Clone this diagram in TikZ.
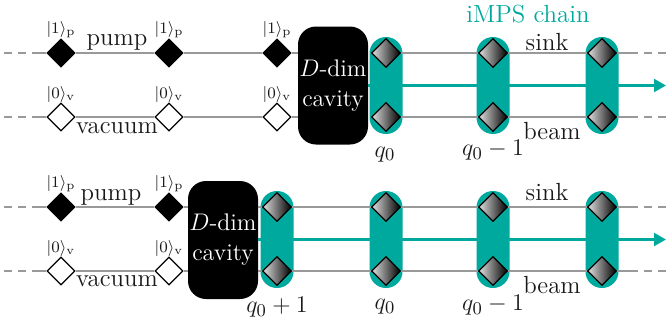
\documentclass[tikz,border=0pt]{standalone}
\usepackage{amssymb}
\usepackage{mathtools}
\usetikzlibrary{shapes.geometric,arrows.meta}
\definecolor{chainteal}{HTML}{00A99D}
\newcommand{\kt}[2]{\lvert #1\rangle_{\mathrm{#2}}}
\tikzset{
  rail/.style={draw=black!40,line width=.8pt},
  tail/.style={rail,dash pattern=on 4pt off 3pt},
  pumpdot/.style={shape=diamond,draw=black,fill=black,inner sep=0pt,minimum size=14pt,line width=.6pt},
  vacdot/.style={pumpdot,fill=white},
  chaindot/.style={pumpdot,left color=gray!25,right color=black,minimum size=14.5pt},
  pill/.style={fill=chainteal,rounded corners=8.2pt,minimum width=16.5pt,minimum height=48.5pt,inner sep=0pt},
  cavity/.style={fill=black,text=white,rounded corners=9pt,minimum width=35pt,minimum height=59pt,inner sep=0pt,align=center,font=\large},
  word/.style={font=\fontsize{12.4}{15}\selectfont,text=black!90,inner sep=0pt},
  ket/.style={font=\footnotesize,text=black!90,inner sep=0pt},
  beamline/.style={draw=chainteal,line width=1.05pt},
}
\begin{document}
\begin{tikzpicture}[x=.5pt,y=-.5pt]
  \useasboundingbox (0,0) rectangle (669,327);
  % upper row
  \begin{scope}[name prefix=up-]
    \foreach \n/\x in {1/61,2/169,3/277} {
      \node[pumpdot] (p\n) at (\x,53) {};
      \node[vacdot] (v\n) at (\x,117) {};
      \node[ket] (kp\n) at (\x,30) {$\kt{1}{p}$};
      \node[ket] (kv\n) at (\x,94) {$\kt{0}{v}$};
    }
    \node[cavity] (cav) at (333,85.5) {$D$-dim\\[1pt]cavity};
    \foreach \n/\x in {1/386,2/493,3/602} {
      \node[pill] (m\n) at (\x,85.5) {};
      \node[chaindot] (s\n) at (\x,53) {};
      \node[chaindot] (b\n) at (\x,117) {};
    }
    \coordinate (pin) at (4,53);
    \coordinate (vin) at (4,117);
    \coordinate (pon) at (40,53);
    \coordinate (von) at (40,117);
    \coordinate (son) at (630,53);
    \coordinate (bon) at (630,117);
    \coordinate (sout) at (669,53);
    \coordinate (bout) at (669,117);
    \coordinate (tip) at (666,85.5);
    \draw[tail] (pin) -- (pon);
    \draw[tail] (vin) -- (von);
    \draw[tail] (son) -- (sout);
    \draw[tail] (bon) -- (bout);
    \draw[rail] (pon) -- (p1) (p1) -- (p2) (p2) -- (p3) (p3) -- (p3 -| cav.west);
    \draw[rail] (von) -- (v1) (v1) -- (v2) (v2) -- (v3) (v3) -- (v3 -| cav.west);
    \draw[rail] (s1) -- (s2) (s2) -- (s3) (s3) -- (son);
    \draw[rail] (b1) -- (b2) (b2) -- (b3) (b3) -- (bon);
    \draw[beamline,-{Triangle[length=6pt,width=6.5pt]}] (cav) -- (tip);
    \node[word] (pu) at (117,42.5) {pump};
    \node[word] (va) at (117,128.5) {vacuum};
    \node[word] (si) at (547,42) {sink};
    \node[word] (be) at (552,131.5) {beam};
    \node[word] (q0) at (385,154.5) {$q_0$};
    \node[word] (q1) at (493,150) {$q_0-1$};
    \node[word,text=chainteal] (ch) at (528,14) {iMPS chain};
  \end{scope}
  % lower row
  \begin{scope}[name prefix=lo-]
    \foreach \n/\x in {1/61,2/169} {
      \node[pumpdot] (p\n) at (\x,207) {};
      \node[vacdot] (v\n) at (\x,271) {};
      \node[ket] (kp\n) at (\x,184) {$\kt{1}{p}$};
      \node[ket] (kv\n) at (\x,248) {$\kt{0}{v}$};
    }
    \node[cavity] (cav) at (223,240) {$D$-dim\\[1pt]cavity};
    \foreach \n/\x in {0/277,1/386,2/493,3/602} {
      \node[pill] (m\n) at (\x,239.5) {};
      \node[chaindot] (s\n) at (\x,207) {};
      \node[chaindot] (b\n) at (\x,271) {};
    }
    \coordinate (pin) at (4,207);
    \coordinate (vin) at (4,271);
    \coordinate (pon) at (40,207);
    \coordinate (von) at (40,271);
    \coordinate (son) at (630,207);
    \coordinate (bon) at (630,271);
    \coordinate (sout) at (669,207);
    \coordinate (bout) at (669,271);
    \coordinate (tip) at (666,239.5);
    \draw[tail] (pin) -- (pon);
    \draw[tail] (vin) -- (von);
    \draw[tail] (son) -- (sout);
    \draw[tail] (bon) -- (bout);
    \draw[rail] (pon) -- (p1) (p1) -- (p2) (p2) -- (p2 -| cav.west) (s0 -| cav.east) -- (s0);
    \draw[rail] (von) -- (v1) (v1) -- (v2) (v2) -- (v2 -| cav.west) (b0 -| cav.east) -- (b0);
    \draw[rail] (s0) -- (s1) (s1) -- (s2) (s2) -- (s3) (s3) -- (son);
    \draw[rail] (b0) -- (b1) (b1) -- (b2) (b2) -- (b3) (b3) -- (bon);
    \draw[beamline,-{Triangle[length=6pt,width=6.5pt]}] (cav.east |- tip) -- (tip);
    \node[word] (pu) at (111,197) {pump};
    \node[word] (va) at (117,281.5) {vacuum};
    \node[word] (si) at (547,192) {sink};
    \node[word] (be) at (552,285) {beam};
    \node[word] (q2) at (277,307) {$q_0+1$};
    \node[word] (q0) at (385,307) {$q_0$};
    \node[word] (q1) at (493,305) {$q_0-1$};
  \end{scope}
\end{tikzpicture}
\end{document}
